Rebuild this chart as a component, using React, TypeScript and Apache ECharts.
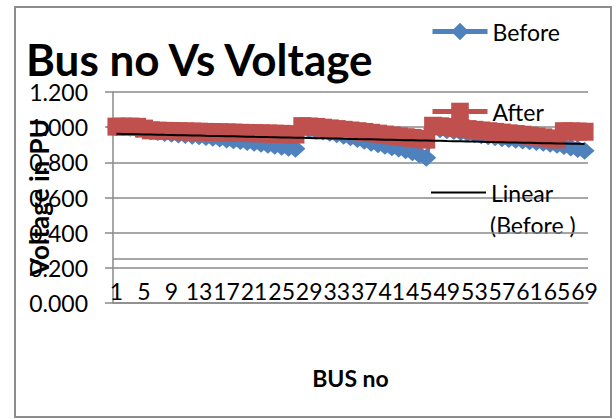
import React, { useEffect, useRef } from "react";
import * as echarts from "echarts";

const busNo: string[] = Array.from({ length: 69 }, (_, i) => String(i + 1));

const before: number[] = [
  1.0, 0.999, 0.996, 0.99, 0.985, 0.978, 0.972, 0.967, 0.962, 0.958,
  0.955, 0.951, 0.948, 0.944, 0.94, 0.935, 0.93, 0.926, 0.921, 0.916,
  0.911, 0.906, 0.9, 0.895, 0.889, 0.883, 0.877,
  0.99, 0.985, 0.98, 0.975, 0.968, 0.96, 0.951, 0.942, 0.933, 0.923,
  0.912, 0.903, 0.894, 0.886, 0.878, 0.869, 0.858, 0.845, 0.826,
  0.992, 0.988, 0.983, 0.978, 0.972, 0.966, 0.96, 0.954, 0.948, 0.942,
  0.937, 0.932, 0.928, 0.924, 0.92, 0.916, 0.911, 0.906, 0.9, 0.893,
  0.885, 0.876, 0.866,
];

const after: number[] = [
  1.003, 1.003, 1.003, 1.002, 0.992, 0.982, 0.98, 0.979, 0.978, 0.977,
  0.976, 0.975, 0.974, 0.973, 0.972, 0.971, 0.97, 0.969, 0.968, 0.967,
  0.966, 0.965, 0.964, 0.963, 0.962, 0.96, 0.958,
  1.006, 1.004, 1.001, 0.997, 0.993, 0.989, 0.985, 0.981, 0.977, 0.973,
  0.968, 0.963, 0.958, 0.953, 0.948, 0.943, 0.939, 0.934, 0.929,
  1.008, 1.005, 1.001, 0.997, 0.993, 0.989, 0.985, 0.981, 0.977, 0.973,
  0.969, 0.965, 0.961, 0.957, 0.952, 0.947, 0.942, 0.936, 0.93, 0.977,
  0.976, 0.975, 0.974,
];

const seriesNames = ["Before", "After", "Linear (Before )"];
const yMin = 0;
const yMax = 1.2;
const yStep = 0.2;
const extraLineValue = 0.25;

function linearFit(values: number[]): number[] {
  const n = values.length;
  let sx = 0, sy = 0, sxx = 0, sxy = 0;
  values.forEach((v, i) => {
    const x = i + 1;
    sx += x; sy += v; sxx += x * x; sxy += x * v;
  });
  const slope = (n * sxy - sx * sy) / (n * sxx - sx * sx);
  const icpt = (sy - slope * sx) / n;
  return values.map((_, i) => +(icpt + slope * (i + 1)).toFixed(4));
}

const FONT = "Lato";
const GRID_COLOR = "#8a8a8a";
const BLUE = "#4F81BD";
const RED = "#C0504D";

export default function App() {
  const ref = useRef<HTMLDivElement>(null);
  useEffect(() => {
    if (!ref.current) return;
    const chart = echarts.init(ref.current, null, { renderer: "svg" });
    const trend = linearFit(before);
    const legendText = { fontFamily: FONT, fontSize: 23, color: "#000" };
    chart.setOption({
      animation: false,
      backgroundColor: "#fff",
      textStyle: { fontFamily: FONT },
      title: {
        text: "Bus no Vs Voltage",
        left: 26,
        top: 37,
        padding: 0,
        textStyle: { fontFamily: FONT, fontWeight: "bold", fontSize: 44, color: "#000" },
      },
      grid: { left: 113, right: 28, top: 92, bottom: 116, outerBoundsMode: "none", containLabel: false },
      legend: [
        {
          data: [{ name: seriesNames[0] }], left: 430, top: 20, padding: 0, itemWidth: 55, itemHeight: 22,
          textStyle: legendText, selectedMode: false, lineStyle: { width: 5 },
        },
        {
          data: [{ name: seriesNames[1] }], left: 430, top: 100, padding: 0, itemWidth: 55, itemHeight: 22,
          textStyle: legendText, selectedMode: false, lineStyle: { width: 5 },
        },
        {
          data: [{ name: seriesNames[2], itemStyle: { opacity: 0 } }], left: 430, top: 181, padding: 0,
          itemWidth: 55, itemHeight: 22, textStyle: legendText, selectedMode: false,
          lineStyle: { width: 2 }, formatter: () => "Linear",
        },
      ],
      graphic: [
        {
          type: "rect",
          shape: { x: 15, y: 7, width: 596, height: 410 },
          style: { fill: "none", stroke: "#8c8c8c", lineWidth: 2 },
          silent: true,
        },
        {
          type: "text",
          left: 490,
          top: 213,
          style: { text: "(Before )", fontFamily: FONT, fontSize: 23, fill: "#000" },
          silent: true,
        },
      ],
      xAxis: {
        type: "category",
        data: busNo,
        boundaryGap: true,
        name: "BUS no",
        nameLocation: "middle",
        nameGap: 63,
        nameMoveOverlap: false,
        nameTextStyle: { fontFamily: FONT, fontWeight: "bold", fontSize: 23, color: "#000" },
        axisLine: { show: true, lineStyle: { color: GRID_COLOR, width: 1.5 } },
        axisTick: { show: false },
        axisLabel: {
          interval: 3,
          fontFamily: FONT,
          fontSize: 23,
          color: "#000",
          margin: -1,
          verticalAlign: "bottom",
          hideOverlap: false,
        },
        splitLine: { show: false },
      },
      yAxis: {
        type: "value",
        min: yMin,
        max: yMax,
        interval: yStep,
        name: "Voltage in PU",
        nameLocation: "middle",
        nameGap: 61,
        nameMoveOverlap: false,
        nameTextStyle: { fontFamily: FONT, fontWeight: "bold", fontSize: 26, color: "#000" },
        axisLine: { show: true, lineStyle: { color: GRID_COLOR, width: 1.5 } },
        axisTick: { show: true, inside: false, length: 8, lineStyle: { color: GRID_COLOR, width: 1.5 } },
        axisLabel: {
          margin: 25,
          fontFamily: FONT,
          fontSize: 23,
          color: "#000",
          formatter: (v: number) => v.toFixed(3),
        },
        splitLine: { show: true, lineStyle: { color: GRID_COLOR, width: 1.5 } },
      },
      series: [
        {
          name: seriesNames[0],
          type: "line",
          data: before,
          color: BLUE,
          symbol: "diamond",
          symbolSize: [20, 18],
          showAllSymbol: true,
          lineStyle: { width: 4, color: BLUE },
          itemStyle: { color: BLUE },
          z: 2,
          markLine: {
            silent: true,
            symbol: "none",
            label: { show: false },
            lineStyle: { color: GRID_COLOR, width: 1.5, type: "solid" },
            data: [{ yAxis: extraLineValue }],
            z: 1,
          },
        },
        {
          name: seriesNames[1],
          type: "line",
          data: after,
          color: RED,
          symbol: "rect",
          symbolSize: 18,
          showAllSymbol: true,
          lineStyle: { width: 4, color: RED },
          itemStyle: { color: RED },
          z: 3,
        },
        {
          name: seriesNames[2],
          type: "line",
          data: trend,
          color: "#000",
          symbol: "none",
          showSymbol: false,
          lineStyle: { width: 2, color: "#000" },
          z: 4,
        },
      ],
    });
    return () => chart.dispose();
  }, []);
  return (
    <div
      ref={ref}
      style={{ position: "fixed", left: 0, top: 0, width: 616, height: 419 }}
    />
  );
}
